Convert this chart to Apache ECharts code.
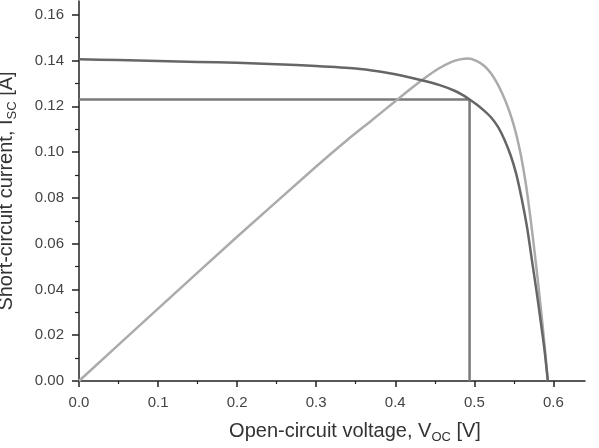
<!DOCTYPE html>
<html>
<head>
<meta charset="utf-8">
<script src="https://cdn.jsdelivr.net/npm/echarts@6/dist/echarts.min.js"></script>
<style>
  html, body { margin: 0; padding: 0; background: #fff; }
  #chart { width: 599px; height: 448px; }
</style>
</head>
<body>
<div id="chart"></div>
<script>
// I-V curve (dark)
const ivVoltage = [0, 0.05, 0.1, 0.15, 0.2, 0.25, 0.3, 0.35, 0.38, 0.40, 0.42, 0.44, 0.46, 0.475, 0.485, 0.494,
  0.503, 0.512, 0.521, 0.530, 0.538, 0.546, 0.553, 0.560, 0.567, 0.573, 0.579, 0.584, 0.589, 0.593];
const ivCurrent = [0.1405, 0.1402, 0.1398, 0.1394, 0.1390, 0.1384, 0.1376, 0.1365, 0.1352, 0.1340, 0.1325, 0.1308, 0.1288, 0.1268, 0.1250, 0.1230,
  0.1208, 0.1182, 0.1152, 0.1110, 0.1055, 0.0985, 0.0905, 0.0795, 0.0665, 0.0525, 0.0385, 0.0260, 0.0130, 0];

// power curve (light), scaled to the current axis
const powerVoltage = [0, 0.1, 0.2, 0.3, 0.34, 0.37, 0.40, 0.42, 0.44, 0.455, 0.47, 0.482, 0.492, 0.502, 0.512,
  0.521, 0.529, 0.536, 0.542, 0.548, 0.553, 0.559, 0.565, 0.570, 0.575, 0.580, 0.585, 0.589, 0.593];
const powerValue = [0, 0.0316, 0.0630, 0.0937, 0.1055, 0.1138, 0.1222, 0.1278, 0.1330, 0.1365, 0.1392, 0.1405, 0.1409, 0.1400, 0.1378,
  0.1344, 0.1300, 0.1250, 0.1200, 0.1140, 0.1078, 0.0985, 0.0865, 0.0740, 0.0600, 0.0450, 0.0290, 0.0150, 0];

// maximum power point
const mppVoltage = 0.494;
const mppCurrent = 0.123;

const xTicks = [0, 0.1, 0.2, 0.3, 0.4, 0.5, 0.6];
const yTicks = [0, 0.02, 0.04, 0.06, 0.08, 0.10, 0.12, 0.14, 0.16];

const font = "'Liberation Sans', Arial, sans-serif";
const zip = (a, b) => a.map((v, i) => [v, b[i]]);

const chart = echarts.init(document.getElementById("chart"));
chart.setOption({
  animation: false,
  backgroundColor: "#fff",
  grid: { left: 79, right: 14, top: 1, bottom: 67, outerBoundsMode: "none", containLabel: false },
  xAxis: {
    type: "value",
    min: 0,
    max: 0.64,
    interval: 0.1,
    name: "Open-circuit voltage, V{sub|OC} [V]",
    nameLocation: "middle",
    nameGap: 38,
    nameTextStyle: {
      fontFamily: font, fontSize: 20, color: "#333",
      padding: [0, 0, 0, 46],
      rich: { sub: { fontFamily: font, fontSize: 13, color: "#333", padding: [12, 0, 0, 0] } },
    },
    axisLine: { show: true, onZero: false, lineStyle: { color: "#222", width: 1.5 } },
    axisTick: { show: true, length: 6, lineStyle: { color: "#222", width: 1.5 }, customValues: xTicks },
    minorTick: { show: true, splitNumber: 2, length: 3, lineStyle: { color: "#222", width: 1.2 } },
    splitLine: { show: false },
    axisLabel: {
      customValues: xTicks,
      margin: 14,
      fontFamily: font, fontSize: 15, color: "#444",
      formatter: (v) => v.toFixed(1),
    },
  },
  yAxis: {
    type: "value",
    min: 0,
    max: 0.166,
    interval: 0.02,
    name: "Short-circuit current, I{sub|SC} [A]",
    nameLocation: "middle",
    nameGap: 60,
    nameTextStyle: {
      fontFamily: font, fontSize: 20, color: "#333",
      rich: { sub: { fontFamily: font, fontSize: 13, color: "#333", padding: [12, 0, 0, 0] } },
    },
    axisLine: { show: true, onZero: false, lineStyle: { color: "#222", width: 1.5 } },
    axisTick: { show: true, length: 7, lineStyle: { color: "#222", width: 1.5 }, customValues: yTicks },
    minorTick: { show: true, splitNumber: 2, length: 4, lineStyle: { color: "#222", width: 1.2 } },
    splitLine: { show: false },
    axisLabel: {
      customValues: yTicks,
      margin: 15,
      fontFamily: font, fontSize: 15, color: "#444",
      formatter: (v) => v.toFixed(2),
    },
  },
  series: [
    {
      name: "MPP",
      type: "line",
      data: [[0, mppCurrent], [mppVoltage, mppCurrent], [mppVoltage, 0]],
      showSymbol: false,
      lineStyle: { color: "#7a7a7a", width: 2.5 },
      z: 2,
    },
    {
      name: "Power",
      type: "line",
      data: zip(powerVoltage, powerValue),
      smooth: 0.2,
      showSymbol: false,
      lineStyle: { color: "#ababab", width: 2.5 },
      z: 3,
    },
    {
      name: "I-V",
      type: "line",
      data: zip(ivVoltage, ivCurrent),
      smooth: 0.2,
      showSymbol: false,
      lineStyle: { color: "#666", width: 2.5 },
      z: 4,
    },
  ],
});
</script>
</body>
</html>
